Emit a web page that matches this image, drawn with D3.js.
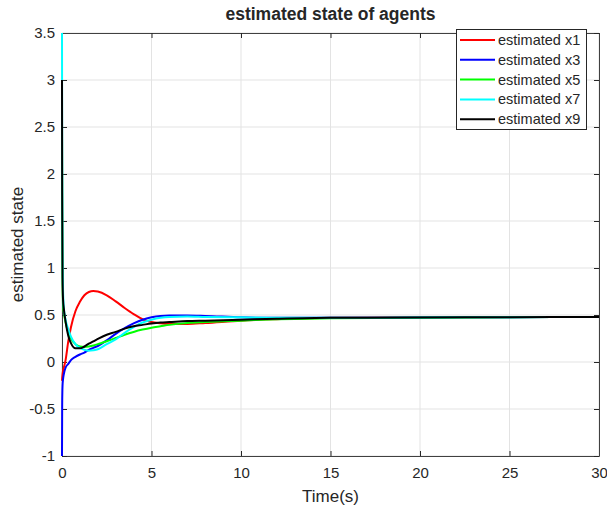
<html>
<head>
    <meta charset="UTF-8">
    <title>estimated state of agents</title>
    <style>
        body { margin: 0; background: #fff; }
        text { font-family: "Liberation Sans", Arial, sans-serif; fill: #262626; }
    </style>
</head>
<body>
<script src="https://d3js.org/d3.v7.min.js"></script>
<script>
    var time = [0, 0.01, 0.03, 0.06, 0.1, 0.2, 0.35, 0.5, 0.75, 1, 1.25, 1.5, 1.75, 2, 2.5, 3, 3.5, 4, 4.5, 5, 5.5, 6, 7, 8, 10, 12, 15, 20, 25, 30];
    var x1 = [-0.2, -0.17, -0.13, -0.09, -0.06, 0.02, 0.22, 0.37, 0.54, 0.64, 0.71, 0.745, 0.755, 0.75, 0.71, 0.645, 0.575, 0.51, 0.455, 0.425, 0.412, 0.406, 0.405, 0.415, 0.44, 0.455, 0.47, 0.475, 0.478, 0.48];
    var x3 = [-1, -0.45, -0.25, -0.18, -0.13, -0.06, -0.02, 0.02, 0.055, 0.08, 0.1, 0.13, 0.15, 0.17, 0.23, 0.3, 0.36, 0.41, 0.45, 0.475, 0.49, 0.495, 0.495, 0.49, 0.475, 0.47, 0.47, 0.473, 0.477, 0.48];
    var x5 = [2.5, 1.6, 0.9, 0.6, 0.53, 0.42, 0.32, 0.25, 0.19, 0.165, 0.16, 0.165, 0.175, 0.19, 0.22, 0.255, 0.29, 0.32, 0.345, 0.365, 0.38, 0.395, 0.415, 0.425, 0.44, 0.455, 0.465, 0.472, 0.476, 0.48];
    var x7 = [3.5, 2.2, 1.2, 0.75, 0.58, 0.45, 0.35, 0.27, 0.19, 0.15, 0.13, 0.12, 0.125, 0.135, 0.19, 0.24, 0.31, 0.37, 0.42, 0.45, 0.47, 0.48, 0.485, 0.48, 0.475, 0.47, 0.47, 0.473, 0.477, 0.48];
    var x9 = [3.0, 1.8, 0.9, 0.66, 0.57, 0.43, 0.28, 0.2, 0.145, 0.145, 0.165, 0.195, 0.22, 0.245, 0.29, 0.32, 0.355, 0.38, 0.395, 0.41, 0.42, 0.425, 0.435, 0.44, 0.45, 0.46, 0.47, 0.473, 0.477, 0.48];
    var names = ["estimated x1", "estimated x3", "estimated x5", "estimated x7", "estimated x9"];
    var colors = ["#ff0000", "#0000ff", "#00ff00", "#00ffff", "#000000"];
    var xTicks = [0, 5, 10, 15, 20, 25, 30];
    var yTicks = [-1, -0.5, 0, 0.5, 1, 1.5, 2, 2.5, 3, 3.5];

    var series = [x1, x3, x5, x7, x9];
    var pLeft = 62, pRight = 599, pTop = 33, pBottom = 456;

    var svg = d3.select("body").append("svg").attr("width", 607).attr("height", 510);

    var x = d3.scaleLinear().domain([0, 30]).range([pLeft, pRight]);
    var y = d3.scaleLinear().domain([-1, 3.5]).range([pBottom, pTop]);

    // grid
    svg.append("g").selectAll("line").data(xTicks).enter().append("line")
        .attr("x1", function(d){ return x(d); }).attr("x2", function(d){ return x(d); })
        .attr("y1", pTop).attr("y2", pBottom)
        .attr("stroke", "#e3e3e3").attr("stroke-width", 1);
    svg.append("g").selectAll("line").data(yTicks).enter().append("line")
        .attr("x1", pLeft).attr("x2", pRight)
        .attr("y1", function(d){ return y(d); }).attr("y2", function(d){ return y(d); })
        .attr("stroke", "#e3e3e3").attr("stroke-width", 1);

    // axes, ticks inside like matlab
    var fmt = function(d){ return String(d); };
    svg.append("g").attr("transform", "translate(0," + pBottom + ")")
        .call(d3.axisBottom(x).tickValues(xTicks).tickFormat(fmt).tickSizeInner(-5).tickSizeOuter(0).tickPadding(11));
    svg.append("g").attr("transform", "translate(" + pLeft + ",0)")
        .call(d3.axisLeft(y).tickValues(yTicks).tickFormat(fmt).tickSizeInner(-5).tickSizeOuter(0).tickPadding(7));
    svg.append("g").attr("transform", "translate(0," + pTop + ")")
        .call(d3.axisTop(x).tickValues(xTicks).tickFormat("").tickSizeInner(-5).tickSizeOuter(0));
    svg.append("g").attr("transform", "translate(" + pRight + ",0)")
        .call(d3.axisRight(y).tickValues(yTicks).tickFormat("").tickSizeInner(-5).tickSizeOuter(0));

    svg.selectAll(".domain").attr("stroke", "#404040");
    svg.selectAll(".tick line").attr("stroke", "#262626");
    svg.selectAll(".tick text").style("font-size", "15px").attr("fill", "#262626")
        .style("font-family", "'Liberation Sans', Arial, sans-serif");

    // curves (drawn over the axis lines, as in the original)
    var line = d3.line()
        .x(function(d){ return x(d[0]); })
        .y(function(d){ return y(d[1]); })
        .curve(d3.curveMonotoneX);

    svg.append("defs").append("clipPath").attr("id", "clip")
        .append("rect").attr("x", pLeft - 2).attr("y", pTop - 1).attr("width", pRight - pLeft + 2).attr("height", pBottom - pTop + 2);

    svg.append("g").attr("clip-path", "url(#clip)")
        .selectAll("path").data(series).enter().append("path")
        .attr("d", function(s){ return line(time.map(function(t, i){ return [t, s[i]]; })); })
        .attr("fill", "none")
        .attr("stroke", function(s, i){ return colors[i]; })
        .attr("stroke-width", 2);

    // title and labels
    svg.append("text").attr("x", (pLeft + pRight) / 2).attr("y", 20)
        .attr("text-anchor", "middle").style("font-size", "17.5px").style("font-weight", "bold")
        .attr("fill", "#000").text("estimated state of agents");
    svg.append("text").attr("x", (pLeft + pRight) / 2).attr("y", 502)
        .attr("text-anchor", "middle").style("font-size", "17px").text("Time(s)");
    svg.append("text").attr("transform", "translate(23," + ((pTop + pBottom) / 2) + ") rotate(-90)")
        .attr("text-anchor", "middle").style("font-size", "17px").text("estimated state");

    // legend
    var lg = svg.append("g");
    lg.append("rect").attr("x", 456.5).attr("y", 29.5).attr("width", 130).attr("height", 100)
        .attr("fill", "#fff").attr("stroke", "#262626").attr("stroke-width", 1);
    var rows = lg.selectAll(".row").data(names).enter().append("g").attr("class", "row");
    rows.append("line")
        .attr("x1", 460).attr("x2", 495)
        .attr("y1", function(d, i){ return 40 + i * 19.8; })
        .attr("y2", function(d, i){ return 40 + i * 19.8; })
        .attr("stroke", function(d, i){ return colors[i]; }).attr("stroke-width", 2);
    rows.append("text")
        .attr("x", 498)
        .attr("y", function(d, i){ return 45 + i * 19.8; })
        .style("font-size", "14.5px").attr("fill", "#000")
        .text(function(d){ return d; });
</script>
</body>
</html>
